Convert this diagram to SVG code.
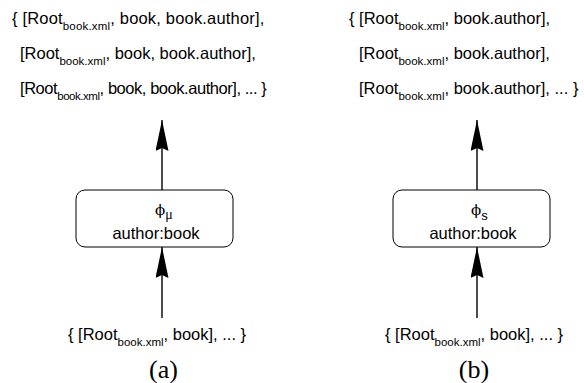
<svg xmlns="http://www.w3.org/2000/svg" width="584" height="383" viewBox="0 0 584 383">
  <style>
    text { font-family: "Liberation Sans", Arial, sans-serif; font-size: 16.5px; fill: #000; }
    .sub { font-size: 11.5px; }
    .greek { font-family: "DejaVu Serif", "Liberation Serif", serif; font-size: 15px; }
    .gsub { font-family: "Liberation Serif", serif; font-size: 14px; }
    .ssub { font-size: 13px; }
    .cap { font-family: "Liberation Serif", "Times New Roman", serif; font-size: 26px; }
    .box { fill: #fff; stroke: #000; stroke-width: 1; }
    .edge { stroke: #000; stroke-width: 1.4; fill: none; marker-end: url(#arrow); }
  </style>
  <defs>
    <marker id="arrow" viewBox="0 0 31 13" refX="31" refY="6.5" markerWidth="31" markerHeight="13" markerUnits="userSpaceOnUse" orient="auto">
      <path d="M0,0 L31,6.5 L0,13 L3,6.5 Z" fill="#000"/>
    </marker>
  </defs>
  <rect width="584" height="383" fill="#fff"/>

  <!-- connectors -->
  <g id="connectors">
    <line class="edge" x1="162" y1="318" x2="162" y2="247"/>
    <line class="edge" x1="162" y1="190" x2="162" y2="120"/>
    <line class="edge" x1="477" y1="318" x2="477" y2="247"/>
    <line class="edge" x1="477" y1="190" x2="477" y2="120"/>
  </g>

  <!-- (a) input set -->
  <g id="input-a">
    <text x="68" y="340">{ [Root<tspan class="sub" dy="6">book.xml</tspan><tspan dy="-6">, book], ... }</tspan></text>
  </g>

  <!-- (a) operator node -->
  <g id="op-mu">
    <rect class="box" x="76" y="190" width="157" height="57" rx="9" ry="9"/>
    <text x="155" y="215" class="greek">ϕ<tspan class="gsub" dy="4">μ</tspan></text>
    <text x="156" y="239" text-anchor="middle">author:book</text>
  </g>

  <!-- (a) output set -->
  <g id="output-a">
    <text x="12" y="24" letter-spacing="0.18">{ [Root<tspan class="sub" dy="6">book.xml</tspan><tspan dy="-6">, book, book.author],</tspan></text>
    <text x="20" y="59">[Root<tspan class="sub" dy="6">book.xml</tspan><tspan dy="-6">, book, book.author],</tspan></text>
    <text x="20" y="94" letter-spacing="-0.45">[Root<tspan class="sub" dy="6">book.xml</tspan><tspan dy="-6">, book, book.author], ... }</tspan></text>
  </g>

  <!-- (b) input set -->
  <g id="input-b">
    <text x="385" y="340">{ [Root<tspan class="sub" dy="6">book.xml</tspan><tspan dy="-6">, book], ... }</tspan></text>
  </g>

  <!-- (b) operator node -->
  <g id="op-s">
    <rect class="box" x="393" y="190" width="157" height="57" rx="9" ry="9"/>
    <text x="471" y="215" class="greek">ϕ<tspan class="ssub" dy="5">s</tspan></text>
    <text x="473" y="239" text-anchor="middle">author:book</text>
  </g>

  <!-- (b) output set -->
  <g id="output-b">
    <text x="349" y="24">{ [Root<tspan class="sub" dy="6">book.xml</tspan><tspan dy="-6">, book.author],</tspan></text>
    <text x="359" y="59">[Root<tspan class="sub" dy="6">book.xml</tspan><tspan dy="-6">, book.author],</tspan></text>
    <text x="359" y="94">[Root<tspan class="sub" dy="6">book.xml</tspan><tspan dy="-6">, book.author], ... }</tspan></text>
  </g>

  <!-- captions -->
  <text class="cap" x="163.5" y="378" text-anchor="middle">(a)</text>
  <text class="cap" x="474" y="378" text-anchor="middle">(b)</text>
</svg>
